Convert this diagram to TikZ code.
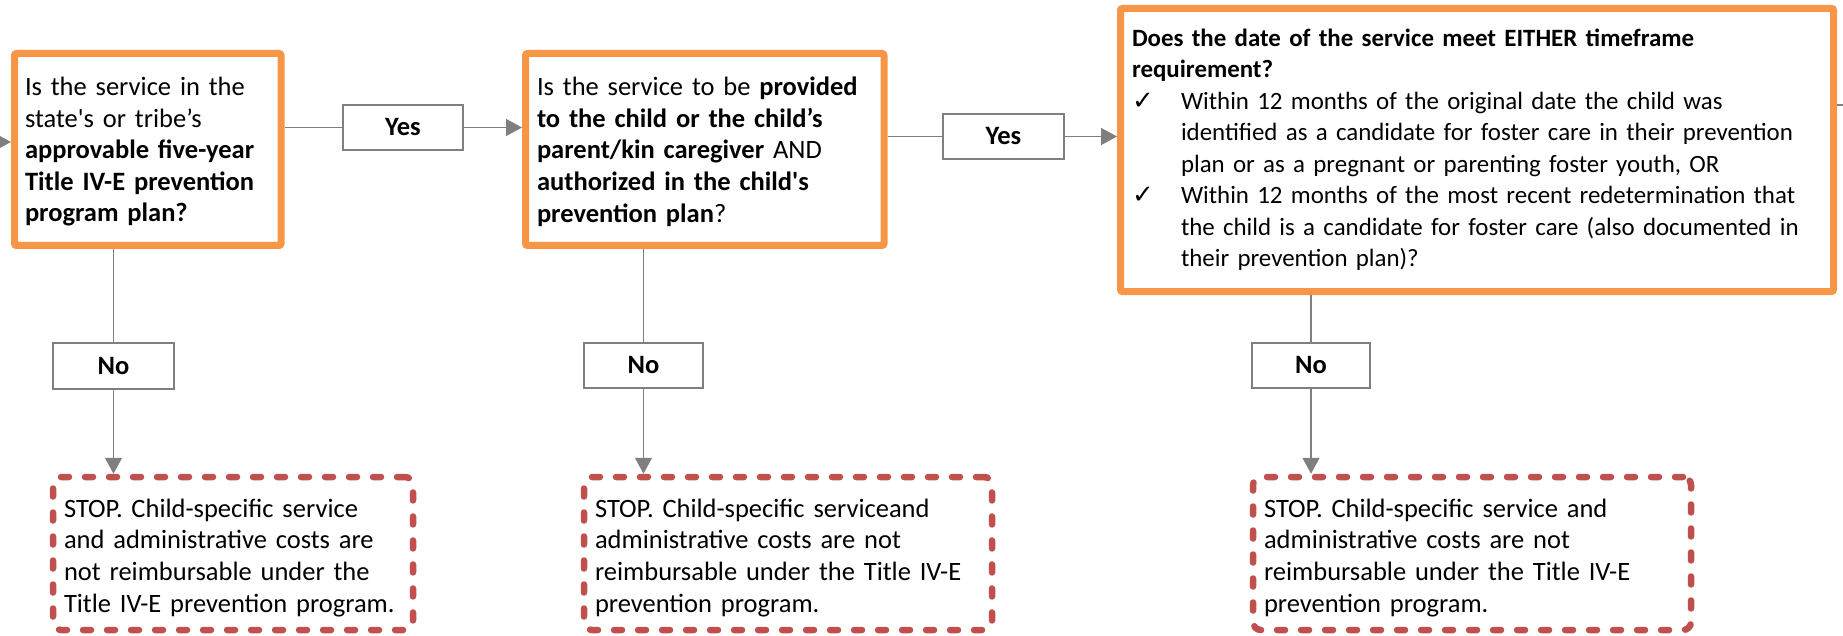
\documentclass[tikz,border=0pt]{standalone}
\usepackage{fontspec}
\setmainfont{Carlito}
\newfontfamily\dejavu{DejaVu Sans}
\usetikzlibrary{arrows.meta}
\definecolor{qorange}{HTML}{F79646}
\definecolor{stopred}{HTML}{C0504D}
\definecolor{conngray}{HTML}{7F7F7F}
\newcommand{\ckm}{\makebox[49pt][l]{\dejavu\fontsize{26}{31.5}\selectfont ✓}}
\newcommand{\ind}{\hspace*{49pt}}
\newcommand{\toppad}[1]{\rule{0pt}{#1}}
\tikzset{
  question/.style={draw=qorange, line width=7pt, rounded corners=2pt, fill=white,
    align=left, anchor=center, inner ysep=0pt, font=\fontsize{26.5}{31.6}\selectfont},
  answer/.style={draw=conngray, line width=1.5pt, fill=white, minimum width=120pt,
    minimum height=45pt, inner sep=0pt, font=\bfseries\fontsize{26.5}{31.7}\selectfont},
  stopbox/.style={draw=stopred, line width=6.5pt, line cap=round, dash pattern=on 8pt off 16pt,
    rounded corners=8pt, align=left, inner xsep=11pt, inner ysep=0pt, minimum height=153pt,
    font=\fontsize{26.5}{31.6}\selectfont},
  conn/.style={draw=conngray, line width=1.5pt},
  arr/.style={conn, -{Triangle[length=16pt, width=17pt]}}
}
\begin{document}
\begin{tikzpicture}[x=1pt, y=-1pt]
\useasboundingbox (0,0) rectangle (1843,636);
% question boxes
\node[question, minimum width=266.5pt, minimum height=192pt, text width=245.5pt, inner xsep=10.5pt]
  (q1) at (147.75,149.5) {\toppad{23pt}Is the service in the\\
  state\textquotesingle s or tribe’s\\
  \textbf{approvable five-year}\\
  \textbf{Title IV-E prevention}\\
  \textbf{program plan?}};
\node[question, minimum width=358.5pt, minimum height=192pt, text width=335.5pt, inner xsep=11.5pt]
  (q2) at (704.75,149.5) {\toppad{23pt}Is the service to be \textbf{provided}\\
  \textbf{to the child or the child’s}\\
  \textbf{parent/kin caregiver} AND\\
  \textbf{authorized in the child\textquotesingle s}\\
  \textbf{prevention plan}?};
\node[question, minimum width=713pt, minimum height=283pt, text width=690pt, inner xsep=11.5pt,
  font=\fontsize{24.9}{31.5}\selectfont]
  (q3) at (1477,150) {\textbf{Does the date of the service meet EITHER timeframe}\\
  \textbf{requirement?}\\
  \ckm Within 12 months of the original date the child was\\
  \ind identified as a candidate for foster care in their prevention\\
  \ind plan or as a pregnant or parenting foster youth, OR\\
  \ckm Within 12 months of the most recent redetermination that\\
  \ind the child is a candidate for foster care (also documented in\\
  \ind their prevention plan)?};
% answer boxes
\node[answer] (yes1) at (403,127.5) {Yes};
\node[answer, minimum width=121pt] (yes2) at (1003.5,136.5) {Yes};
\node[answer, minimum width=121pt, minimum height=46pt] (no1) at (113.5,366) {No};
\node[answer, minimum width=119pt] (no2) at (643.5,365.5) {No};
\node[answer, minimum width=118pt] (no3) at (1311,365.5) {No};
% stop boxes
\node[stopbox, minimum width=360pt, text width=338pt] (s1) at (233,553.5) {\toppad{27pt}STOP. Child-specific service\\
  and administrative costs are\\
  not reimbursable under the\\
  Title IV-E prevention program.};
\node[stopbox, minimum width=408pt, text width=386pt] (s2) at (788,553.5) {\toppad{27pt}STOP. Child-specific serviceand\\
  administrative costs are not\\
  reimbursable under the Title IV-E\\
  prevention program.};
\node[stopbox, minimum width=438pt, text width=416pt] (s3) at (1472,553.5) {\toppad{27pt}STOP. Child-specific service and\\
  administrative costs are not\\
  reimbursable under the Title IV-E\\
  prevention program.};
% outer coordinates
\coordinate (inL) at (0,142);
\coordinate (outR) at (1843,105);
% connectors
\draw[arr] (inL) -- (inL -| q1.west);
\draw[conn] (yes1.west -| q1.east) -- (yes1.west);
\draw[arr] (yes1.east) -- (yes1.east -| q2.west);
\draw[conn] (yes2.west -| q2.east) -- (yes2.west);
\draw[arr] (yes2.east) -- (yes2.east -| q3.west);
\draw[conn] (outR -| q3.east) -- (outR);
\draw[conn] (no1.north |- q1.south) -- (no1.north);
\draw[arr] (no1.south) -- (no1.south |- s1.north);
\draw[conn] (no2.north |- q2.south) -- (no2.north);
\draw[arr] (no2.south) -- (no2.south |- s2.north);
\draw[conn] (no3.north |- q3.south) -- (no3.north);
\draw[arr] (no3.south) -- (no3.south |- s3.north);
\end{tikzpicture}
\end{document}
